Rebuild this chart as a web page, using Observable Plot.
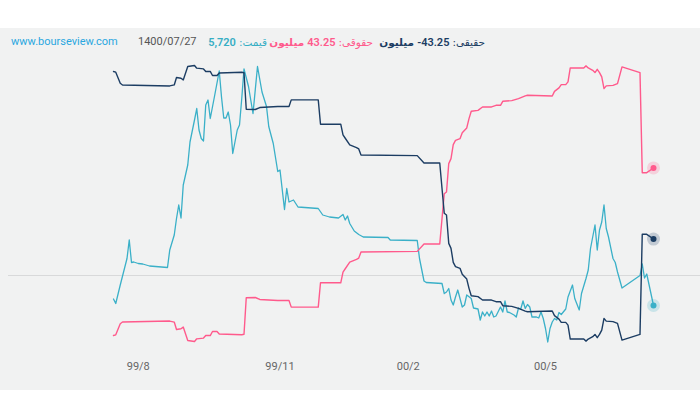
<!DOCTYPE html>
<html><head><meta charset="utf-8">
<script src="https://cdn.jsdelivr.net/npm/d3@7"></script>
<script src="https://cdn.jsdelivr.net/npm/@observablehq/plot@0.6"></script>
<style>
body{margin:0;width:700px;height:400px;background:#fff;position:relative;overflow:hidden;font-family:Roboto,"DejaVu Sans",sans-serif}
#bg{position:absolute;left:0;top:28px;width:700px;height:362px;background:#f1f2f2}
.h{position:absolute;top:34px;font-size:11px;line-height:16px;white-space:nowrap}
.lg{position:absolute;top:34px;display:flex;gap:3px;align-items:baseline;direction:rtl;white-space:nowrap;line-height:16px}
.fa{font-family:"DejaVu Sans",sans-serif;font-size:10.5px}
.num{font-weight:600;font-size:11px;direction:ltr;unicode-bidi:isolate}
.chart{position:absolute;left:0;top:50px}
</style></head><body>
<div id="bg"></div>
<div class="h" style="left:11px;color:#2aa7e0">www.bourseview.com</div>
<div class="h" style="left:138px;color:#555">1400/07/27</div>
<div class="lg" style="right:215px;color:#1c3d63"><span class="fa">حقیقی:</span><span class="num">-43.25</span><span class="fa" style="font-weight:600">میلیون</span></div>
<div class="lg" style="right:327px;color:#ff5a8c"><span class="fa">حقوقی:</span><span class="num">43.25</span><span class="fa" style="font-weight:600">میلیون</span></div>
<div class="lg" style="right:433px;color:#36aec4"><span class="fa">قیمت:</span><span class="num">5,720</span></div>
<div id="c1" class="chart"></div>
<div id="c2" class="chart"></div>
<script>
// x tick positions (trading-day index) and labels
const tickDays = [11, 74, 131, 192];
const tickLabels = ["99/8", "99/11", "00/2", "00/5"];

// cumulative net flow (million) — legal (حقوقی) and real (حقیقی)
const flowDays = [0,1,3,4,25,27,28,30,31,32,33,36,37,40,41,43,44,46,47,57,58,59,63,65,73,78,79,91,92,101,102,103,105,108,109,110,135,138,145,146,147,148,149,150,151,152,154,155,157,158,159,162,164,168,170,172,173,177,180,183,184,195,196,198,199,201,202,203,209,210,211,213,214,215,216,217,218,219,222,224,226,234,235,237,240];
const legalNet = [-160.7,-159.8,-146.4,-144.3,-143.1,-144.3,-153.3,-152.5,-150.4,-158.6,-166.7,-168.0,-164.7,-163.8,-160.7,-160.7,-155.8,-155.8,-158.9,-159.8,-159.2,-114.7,-114.4,-116.8,-118.0,-118.0,-126.1,-126.1,-96.5,-96.5,-83.4,-79.4,-71.3,-68.1,-66.4,-59.1,-58.3,-49.3,-49.3,-18.5,11.9,14.0,48.5,54.6,71.6,76.9,78.9,86.2,92.0,103.3,112.2,113.4,117.5,117.5,119.5,119.5,124.4,125.2,127.6,130.9,131.7,130.9,136.5,140.7,144.7,144.7,148.0,165.0,165.0,167.5,165.0,162.1,159.3,163.3,159.3,154.1,139.8,143.1,143.8,145.9,166.3,159.3,37.5,37.5,43.25];
const realNet = [160.7,159.8,146.4,144.3,143.1,144.3,153.3,152.5,150.4,158.6,166.7,168.0,164.7,163.8,160.7,160.7,155.8,155.8,158.9,159.8,159.2,114.7,114.4,116.8,118.0,118.0,126.1,126.1,96.5,96.5,83.4,79.4,71.3,68.1,66.4,59.1,58.3,49.3,49.3,18.5,-11.9,-14.0,-48.5,-54.6,-71.6,-76.9,-78.9,-86.2,-92.0,-103.3,-112.2,-113.4,-117.5,-117.5,-119.5,-119.5,-124.4,-125.2,-127.6,-130.9,-131.7,-130.9,-136.5,-140.7,-144.7,-144.7,-148.0,-165.0,-165.0,-167.5,-165.0,-162.1,-159.3,-163.3,-159.3,-154.1,-139.8,-143.1,-143.8,-145.9,-166.3,-159.3,-37.5,-37.5,-43.25];

// price (قیمت)
const priceDays = [0,1,3,6,7,8,9,11,13,16,24,25,27,28,29,30,31,33,34,36,37,38,39,40,41,42,43,45,47,48,49,50,51,52,53,55,56,57,58,60,62,64,66,68,69,71,73,74,76,77,78,80,82,91,93,96,100,102,103,104,105,107,109,111,122,123,135,136,138,139,146,147,148,149,150,151,152,153,155,156,157,159,160,162,163,164,165,166,167,168,169,170,172,173,174,175,176,178,179,180,181,182,183,184,185,186,188,189,190,191,192,193,194,195,196,197,198,199,201,202,204,205,207,208,210,211,212,214,215,216,217,218,219,220,222,223,224,226,234,235,236,237,240];
const priceVals = [5850,5760,6130,6660,7030,6580,6590,6560,6550,6510,6480,6830,7130,7460,7730,7470,8130,8530,8990,9430,9660,9230,9060,9010,9730,9830,9460,9930,10410,9890,9470,9470,9590,9330,8760,9230,9330,9860,10450,10100,9560,10500,9990,9700,9300,8960,8400,8430,7640,8060,7790,7830,7690,7660,7530,7490,7470,7540,7430,7510,7360,7210,7140,7090,7080,7030,7020,6660,6210,6180,6160,5960,5990,6060,5830,5730,5890,6030,5690,5730,5930,5860,5670,5650,5430,5590,5510,5590,5510,5610,5490,5510,5690,5590,5810,5590,5580,5530,5490,5670,5650,5810,5660,5740,5690,5490,5490,5470,5590,5460,5260,4990,5260,5390,5460,5430,5580,5540,5650,5890,6130,5860,5630,5960,6260,6430,6860,7330,6830,7230,7390,7730,7260,7090,6660,6580,6390,6070,6320,6550,6270,6350,5720];
const refPrice = 6320;

const COL = {legal: "#ff5a8c", real: "#1c3d63", price: "#3ab0c8"};

const legal = flowDays.map((d, i) => ({day: d, v: legalNet[i]}));
const real = flowDays.map((d, i) => ({day: d, v: realNet[i]}));
const price = priceDays.map((d, i) => ({day: d, v: priceVals[i]}));

const common = {
  width: 700, height: 340,
  marginLeft: 113, marginRight: 47, marginTop: 1, marginBottom: 35,
  style: {background: "transparent", overflow: "visible", fontFamily: "Roboto, sans-serif", fontSize: "11px", color: "#666"}
};

const endDots = (arr, color) => [
  Plot.dot(arr.slice(-1), {x: "day", y: "v", r: 6.5, fill: color, fillOpacity: 0.22}),
  Plot.dot(arr.slice(-1), {x: "day", y: "v", r: 3, fill: color})
];

const pricePlot = Plot.plot({
  ...common,
  x: {domain: [0, 240], ticks: tickDays, tickFormat: d => tickLabels[tickDays.indexOf(d)], tickSize: 0, tickPadding: 7, label: null},
  y: {domain: [4720, 10800], axis: null},
  marks: [
    Plot.ruleY([refPrice], {stroke: "#d8d9da", strokeWidth: 1, insetLeft: -105, insetRight: -47}),
    Plot.line(price, {x: "day", y: "v", stroke: COL.price, strokeWidth: 1.3}),
    ...endDots(price, COL.price)
  ]
});
document.getElementById("c1").appendChild(pricePlot);

const flowPlot = Plot.plot({
  ...common,
  x: {domain: [0, 240], axis: null},
  y: {domain: [-185, 185], axis: null},
  marks: [
    Plot.line(legal, {x: "day", y: "v", stroke: COL.legal, strokeWidth: 1.4}),
    Plot.line(real, {x: "day", y: "v", stroke: COL.real, strokeWidth: 1.4}),
    ...endDots(legal, COL.legal),
    ...endDots(real, COL.real)
  ]
});
document.getElementById("c2").appendChild(flowPlot);
</script>
</body></html>
